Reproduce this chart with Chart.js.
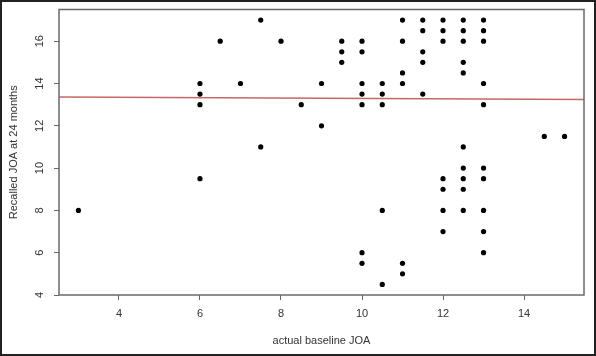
<!DOCTYPE html>
<html>
<head>
<meta charset="utf-8">
<script src="https://cdn.jsdelivr.net/npm/chart.js@4"></script>
<style>
  html, body { margin: 0; padding: 0; background: #fff; }
  canvas { display: block; }
</style>
</head>
<body>
<canvas id="joaChart" width="596" height="356"></canvas>
<script>
// actual baseline JOA (x) vs recalled JOA at 24 months (y), one entry per patient
const baselineJOA = [
  3,
  6, 6, 6, 6,
  6.5,
  7,
  7.5, 7.5,
  8,
  8.5,
  9, 9,
  9.5, 9.5, 9.5,
  10, 10, 10, 10, 10, 10, 10,
  10.5, 10.5, 10.5, 10.5, 10.5,
  11, 11, 11, 11, 11, 11,
  11.5, 11.5, 11.5, 11.5, 11.5,
  12, 12, 12, 12, 12, 12, 12,
  12.5, 12.5, 12.5, 12.5, 12.5, 12.5, 12.5, 12.5, 12.5, 12.5,
  13, 13, 13, 13, 13, 13, 13, 13, 13, 13,
  14.5, 15
];
const recalledJOA = [
  8,
  14, 13.5, 13, 9.5,
  16,
  14,
  17, 11,
  16,
  13,
  14, 12,
  16, 15.5, 15,
  16, 15.5, 14, 13.5, 13, 6, 5.5,
  14, 13.5, 13, 8, 4.5,
  17, 16, 14.5, 14, 5.5, 5,
  17, 16.5, 15.5, 15, 13.5,
  17, 16.5, 16, 9.5, 9, 8, 7,
  17, 16.5, 16, 15, 14.5, 11, 10, 9.5, 9, 8,
  17, 16.5, 16, 14, 13, 10, 9.5, 8, 7, 6,
  11.5, 11.5
];

// fitted regression line (abline) end points
const fitX = [2.52, 15.48];
const fitY = [13.36, 13.25];

const xTickValues = [4, 6, 8, 10, 12, 14];
const yTickValues = [4, 6, 8, 10, 12, 14, 16];

const points = baselineJOA.map((x, i) => ({ x: x, y: recalledJOA[i] }));
const fitLine = fitX.map((x, i) => ({ x: x, y: fitY[i] }));

const font = { family: "'Liberation Sans', Arial, sans-serif", size: 11 };

const boxPlugin = {
  id: 'box',
  afterDraw(chart) {
    const { ctx, chartArea } = chart;
    ctx.save();
    ctx.strokeStyle = '#6a6a6a';
    ctx.lineWidth = 1.5;
    ctx.strokeRect(chartArea.left, chartArea.top,
      chartArea.right - chartArea.left, chartArea.bottom - chartArea.top);
    ctx.strokeStyle = '#222';
    ctx.lineWidth = 2;
    ctx.strokeRect(1, 1, chart.width - 2, chart.height - 2);
    ctx.restore();
  }
};

new Chart(document.getElementById('joaChart'), {
  type: 'scatter',
  data: {
    datasets: [
      {
        data: points,
        pointRadius: 2.6,
        pointHoverRadius: 2.6,
        pointBackgroundColor: '#000',
        pointBorderWidth: 0,
        showLine: false
      },
      {
        type: 'line',
        data: fitLine,
        borderColor: '#c96565',
        borderWidth: 1.5,
        pointRadius: 0,
        fill: false
      }
    ]
  },
  options: {
    responsive: false,
    animation: false,
    layout: { padding: { top: 9.5, right: 12, left: 0, bottom: 0 } },
    plugins: {
      legend: { display: false },
      tooltip: { enabled: false }
    },
    scales: {
      x: {
        type: 'linear',
        min: 2.52,
        max: 15.48,
        afterBuildTicks: s => { s.ticks = xTickValues.map(v => ({ value: v })); },
        afterFit: s => { s.height = 61; s.paddingLeft = 0; s.paddingRight = 0; },
        border: { display: false },
        grid: { drawOnChartArea: false, drawTicks: true, tickLength: 5, color: '#666' },
        ticks: { font: font, color: '#333', padding: 7, maxRotation: 0 },
        title: { display: true, text: 'actual baseline JOA', font: font, color: '#333', padding: { top: 8, bottom: 8 } }
      },
      y: {
        type: 'linear',
        min: 4,
        max: 17.5,
        afterBuildTicks: s => { s.ticks = yTickValues.map(v => ({ value: v })); },
        afterFit: s => { s.width = 59; s.paddingTop = 0; s.paddingBottom = 0; },
        border: { display: false },
        grid: { drawOnChartArea: false, drawTicks: true, tickLength: 5, color: '#666' },
        ticks: { font: font, color: '#333', padding: 8, minRotation: 90, maxRotation: 90, crossAlign: 'center' },
        title: { display: true, text: 'Recalled JOA at 24 months', font: font, color: '#333', padding: { top: 7, bottom: 7 } }
      }
    }
  },
  plugins: [boxPlugin]
});
</script>
</body>
</html>
